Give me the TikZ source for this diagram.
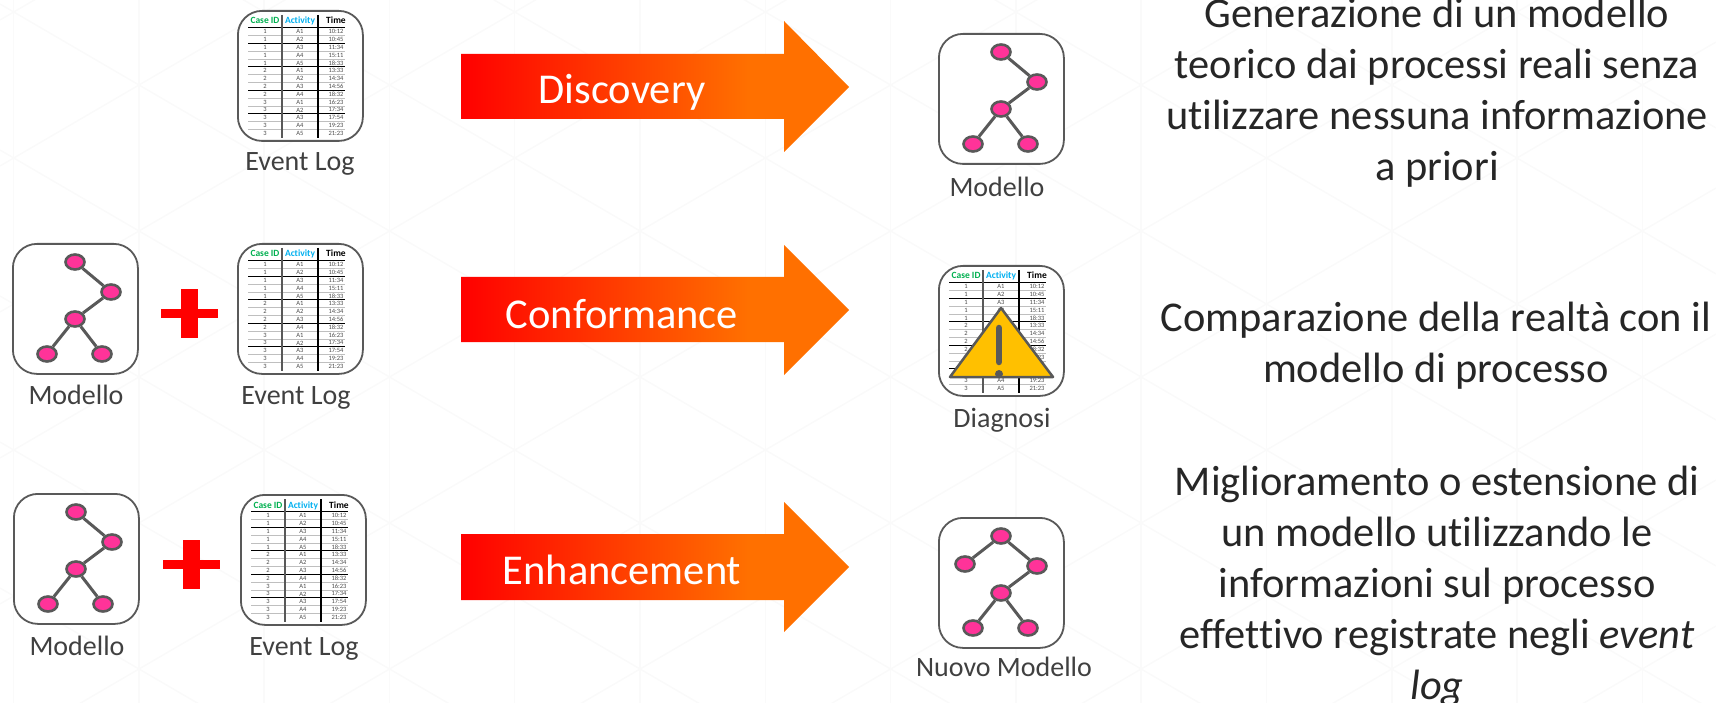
\documentclass[tikz,border=0pt]{standalone}
\usepackage{fontspec}
\setmainfont{Carlito}[Ligatures=NoCommon]
\usetikzlibrary{shapes.geometric}

\definecolor{iconline}{HTML}{595959}
\definecolor{treepink}{HTML}{FF3399}
\definecolor{warnyellow}{HTML}{FFC000}
\definecolor{casegreen}{HTML}{00B050}
\definecolor{activityblue}{HTML}{00B0F0}
\definecolor{arroworange}{HTML}{FF7000}
\definecolor{hexline}{HTML}{FAFAFA}

\pgfdeclarehorizontalshading{arrowfade}{100bp}{color(0bp)=(red); color(25bp)=(red); color(62bp)=(arroworange); color(100bp)=(arroworange)}

\tikzset{
  iconbox/.style={draw=iconline,fill=white,line width=1.8pt,rounded corners=24pt,minimum width=125pt,minimum height=130pt,inner sep=0pt,anchor=north west},
  treenode/.style={ellipse,draw=iconline,fill=treepink,line width=2.6pt,minimum width=19pt,minimum height=15pt,inner sep=0pt},
  treeedge/.style={draw=iconline,line width=3pt},
  iconlabel/.style={anchor=base,text=black!75,font=\fontsize{28}{34}\selectfont,inner sep=0pt},
  arrowlabel/.style={anchor=base,text=white,font=\fontsize{42.5}{51}\selectfont,inner sep=0pt},
  sidetext/.style={align=center,text=black!85,font=\fontsize{42.4}{51}\selectfont,inner sep=0pt},
  arrowfill/.style={shading=arrowfade},
  plusbar/.style={fill=red},
  cellhead/.style={font=\fontsize{9.5}{10}\selectfont\bfseries,inner sep=0pt,text height=6pt,text depth=2pt},
  celltext/.style={font=\fontsize{6.5}{7}\selectfont,text=black!70,inner sep=0pt},
  pics/treeicon/.style={code={
    \node[iconbox] (box) at (0,0) {};
    \node[treenode] (a) at (63,19) {};
    \node[treenode] (b) at (99,49) {};
    \node[treenode] (c) at (63,76) {};
    \node[treenode] (d) at (35,111) {};
    \node[treenode] (e) at (90,111) {};
    \draw[treeedge] (a) -- (b);
    \draw[treeedge] (b) -- (c);
    \draw[treeedge] (c) -- (d);
    \draw[treeedge] (c) -- (e);
  }},
  pics/logicon/.style={code={
    \node[iconbox] (box) at (0,0) {};
    \node[cellhead,text=casegreen] (hc) at (28,12) {Case ID};
    \node[cellhead,text=activityblue] (ha) at (63,12) {Activity};
    \node[cellhead,text=black] (ht) at (99,12) {Time};
    \foreach \i/\cid/\act/\tim in {0/1/A1/10:12,1/1/A2/10:45,2/1/A3/11:34,3/1/A4/15:11,4/1/A5/18:33,
      5/2/A1/13:33,6/2/A2/14:34,7/2/A3/14:56,8/2/A4/18:32,9/3/A1/16:23,10/3/A2/17:34,
      11/3/A3/17:54,12/3/A4/19:23,13/3/A5/21:23}{
      \node[celltext] (c\i) at (28,21.7+7.82*\i) {\cid};
      \node[celltext] (a\i) at (63,21.7+7.82*\i) {\act};
      \node[celltext] (t\i) at (99,21.7+7.82*\i) {\tim};
    }
    \foreach \i in {0,2,3,5,6,8,9,11,12}{
      \draw[black!25,line width=0.7pt] (11,25.6+7.82*\i) -- (108,25.6+7.82*\i);
    }
    \foreach \i in {1,4,7,10}{
      \draw[black,line width=0.8pt] (11,25.6+7.82*\i) -- (108,25.6+7.82*\i);
    }
    \draw[black,line width=0.8pt] (11,17) -- (108,17);
    \draw[iconline,line width=1.2pt] (45,5) -- (45,128);
    \draw[black,line width=1.2pt] (81,5) -- (81,128);
  }}
}

\begin{document}
\begin{tikzpicture}[x=1pt,y=-1pt]
  \useasboundingbox (0,0) rectangle (1716,703);

  % faint background
  \begin{scope}
    \clip (0,0) rectangle (1716,703);
    \foreach \k in {-5,...,9}{
      \draw[hexline,line width=1.5pt] ({640+125.3*\k},0) -- ({640+125.3*\k},703);
    }
    \foreach \m in {-8,...,14}{
      \draw[hexline,line width=1.5pt] (0,{85+146*\m-373}) -- (1716,{85+146*\m-373+1000});
      \draw[hexline,line width=1.5pt] (0,{85+146*\m+373}) -- (1716,{85+146*\m+373-1000});
    }
  \end{scope}

  % first row
  \pic (log1) at (237,10) {logicon};
  \node[iconlabel] (log1label) at (300,170.5) {Event Log};
  \shade[arrowfill] (461,54) -- (784,54) -- (784,21) -- (849,87) -- (784,152) -- (784,119) -- (461,119) -- cycle;
  \node[arrowlabel] (discovery) at (622,104) {Discovery};
  \pic (model1) at (938,33) {treeicon};
  \node[iconlabel] (model1label) at (997,196.5) {Modello};
  \node[sidetext] (text1) at (1437,93) {Generazione di un modello\\teorico dai processi reali senza\\utilizzare nessuna informazione\\a priori};

  % second row
  \pic (model2) at (12,243) {treeicon};
  \node[iconlabel] (model2label) at (76,404) {Modello};
  \fill[plusbar] (161,309) rectangle (218,318);
  \fill[plusbar] (181,289) rectangle (198,338);
  \pic (log2) at (237,243) {logicon};
  \node[iconlabel] (log2label) at (296,404) {Event Log};
  \shade[arrowfill] (461,277) -- (784,277) -- (784,245) -- (849,310) -- (784,375) -- (784,342) -- (461,342) -- cycle;
  \node[arrowlabel] (conformance) at (622,328) {Conformance};
  \pic (log3) at (938,265) {logicon};
  \draw[iconline,fill=warnyellow,line width=2.5pt,line join=round] (1001,308) -- (1053,377) -- (950,377) -- cycle;
  \draw[iconline,line width=6.5pt,line cap=round] (999,328) -- (999,362);
  \fill[iconline] (999,374) circle (4);
  \node[iconlabel] (diagnosis) at (1002,427) {Diagnosi};
  \node[sidetext] (text2) at (1436,346) {Comparazione della realtà con il\\modello di processo};

  % third row
  \pic (model3) at (13,493) {treeicon};
  \node[iconlabel] (model3label) at (77,655) {Modello};
  \fill[plusbar] (163,560) rectangle (220,569);
  \fill[plusbar] (183,540) rectangle (200,589);
  \pic (log4) at (240,494) {logicon};
  \node[iconlabel] (log4label) at (304,655) {Event Log};
  \shade[arrowfill] (461,534) -- (784,534) -- (784,502) -- (849,567) -- (784,632) -- (784,600) -- (461,600) -- cycle;
  \node[arrowlabel] (enhancement) at (622,584) {Enhancement};
  \pic (model4) at (938,517) {treeicon};
  \node[treenode] (model4f) at (965,564) {};
  \draw[treeedge] (model4f) -- (model4a);
  \node[iconlabel] (model4label) at (1004,676) {Nuovo Modello};
  \node[sidetext] (text3) at (1437,586) {Miglioramento o estensione di\\un modello utilizzando le\\informazioni sul processo\\effettivo registrate negli \textit{event}\\\textit{log}};
\end{tikzpicture}
\end{document}
